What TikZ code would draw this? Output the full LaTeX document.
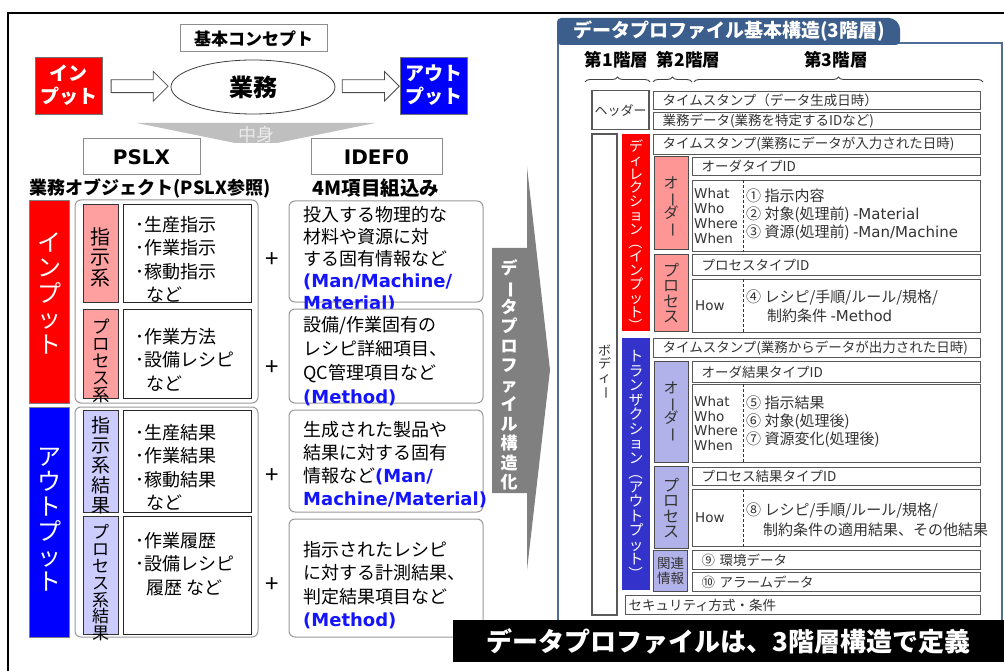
\documentclass[tikz,border=0pt]{standalone}
\usepackage{fontspec}
\setmainfont{Noto Sans CJK JP}
\newfontfamily\vfont{DejaVu Sans}
\usepackage{graphicx}
\usetikzlibrary{positioning}
\usetikzlibrary{calc}
\usetikzlibrary{shapes.geometric}
\usetikzlibrary{shapes.arrows}
\usetikzlibrary{decorations.pathreplacing}

\definecolor{inpink}{RGB}{255,160,160}
\definecolor{outlav}{RGB}{204,204,255}
\definecolor{rpink}{RGB}{255,150,150}
\definecolor{rlav}{RGB}{178,178,235}
\definecolor{trblue}{RGB}{51,51,204}
\definecolor{tabblue}{RGB}{59,94,140}
\definecolor{mblue}{RGB}{20,20,255}

\newcommand{\fsz}[2]{\fontsize{#1}{#2}\selectfont}
\newcommand{\rot}[1]{\rotatebox[origin=c]{-90}{#1}}
\newcommand{\mtag}[1]{{\color{mblue}\vfont\bfseries #1}}

\begin{document}
\begin{tikzpicture}[x=1pt,y=-1pt,
   tbox/.style={draw=black!45,line width=1pt,fill=white},
   cbox/.style={draw=black!85,line width=0.9pt,fill=white,minimum width=128},
   grp/.style={draw=black!40,line width=1pt,rounded corners=6,minimum width=183},
   mbox/.style={draw=black!40,line width=1pt,rounded corners=6,fill=white,minimum width=194},
   lbl/.style={draw=black!80,line width=0.9pt,minimum width=35,inner sep=0},
   tate/.style={align=center,inner sep=0,execute at begin node={\lineskiplimit=-20pt}},
   ctext/.style={anchor=north west,align=left,inner sep=0,font=\fsz{18}{23.5}},
   mtext/.style={anchor=north west,align=left,inner sep=0,font=\fsz{18}{23}},
   plus/.style={font=\fsz{24}{26}},
   harrow/.style={single arrow,draw=black!70,fill=white,line width=0.8pt,minimum height=57,
      minimum width=29,single arrow head extend=8.5,inner xsep=0,inner ysep=6,
      text height=0pt,text depth=0pt},
   rbox/.style={draw=black!65,line width=1.1pt,fill=white,text=black!80,font=\fsz{13}{15},inner sep=0},
   ritem/.style={rbox,anchor=north west,align=left,inner xsep=9,font=\fsz{13.5}{15}},
   rlbl/.style={draw=black!70,line width=1pt,minimum width=34,inner sep=0},
   wtext/.style={anchor=west,align=left,inner sep=0,text=black!80},
   tier/.style={font=\bfseries\fsz{17.5}{19}},
   tbrace/.style={decorate,decoration={brace,amplitude=5},line width=0.9pt,draw=black!75},
   divider/.style={draw=black!80,line width=0.9pt,dash pattern=on 3pt off 2pt}]
\useasboundingbox (0,0) rectangle (1004,671);
\fill[white] (0,0) rectangle (1004,671);
\draw[line width=1.5pt] (8,671) -- (8,13) -- (1004,13);

% basic concept
\node[tbox,minimum width=147,minimum height=27,font=\bfseries\fsz{17}{19}] (concept) at (253.5,38.5) {基本コンセプト};
\node[draw=black!55,fill=red,text=white,minimum width=67,minimum height=57,align=center,inner sep=0,
   font=\bfseries\fsz{19}{23}] (inp) at (68.5,85.5) {イン\\プット};
\node[ellipse,draw=black!75,line width=0.8pt,minimum width=164,minimum height=54,
   font=\bfseries\fsz{24}{26}] (biz) at (253,87) {業務};
\node[draw=black!55,fill=blue,text=white,minimum width=67,minimum height=57,align=center,inner sep=0,
   font=\bfseries\fsz{19}{23}] (outp) at (433.5,85.5) {アウト\\プット};
\node[harrow] (arrA) at ($(inp.east)!0.5!(biz.west)$) {};
\node[harrow] (arrB) at ($(biz.east)!0.5!(outp.west)$) {};
\fill[black!25] (137,123) -- (375,123) -- (277,143) -- (235,143) -- cycle;
\node[text=black!8,font=\fsz{18}{20}] (naka) at (256,135) {中身};

\node[tbox,minimum width=117,minimum height=36,font=\vfont\bfseries\fsz{20}{22}] (pslx) at (141.5,157) {PSLX};
\node[tbox,minimum width=131,minimum height=36,font=\vfont\bfseries\fsz{20}{22}] (idef) at (376.5,157) {IDEF0};
\node[font=\bfseries\fsz{18}{20}] (objhd) at (150,188) {業務オブジェクト(PSLX参照)};
\node[font=\bfseries\fsz{19.5}{21}] (fourm) at (376,188) {4M項目組込み};

% input rows
\node[fill=red,draw=black!50,minimum width=40,minimum height=203,inner sep=0] (inbig) at (49,301.5) {};
\node[tate,text=white,font=\fsz{24}{25.5}] (inbigT) at (49,293) {イ\\ン\\プ\\ッ\\ト};
\node[grp,minimum height=203] (ingrp) at (166.5,301.5) {};
\node[lbl,fill=inpink,minimum height=98] (shiji) at (100.5,253) {};
\node[tate,font=\fsz{20}{20.5}] (shijiT) at (100.5,257) {指\\示\\系};
\node[cbox,minimum height=98] (c1) at (187,253) {};
\node[ctext] (c1t) at (135,216) {･生産指示\\･作業指示\\･稼動指示\\\hspace*{11pt}など};
\node[lbl,fill=inpink,minimum height=89] (proc) at (101,353.5) {};
\node[tate,font=\fsz{17.5}{17}] (procT) at (101,361) {プ\\ロ\\セ\\ス\\系};
\node[cbox,minimum height=89] (c2) at (187,353.5) {};
\node[ctext] (c2t) at (135,328) {･作業方法\\･設備レシピ\\\hspace*{11pt}など};

\node[mbox,minimum height=101] (m1) at (386,251.5) {};
\node[mtext,font=\fsz{18}{22}] (m1t) at (303,206) {投入する物理的な\\材料や資源に対\\する固有情報など\\\mtag{(Man/Machine/}\\\mtag{Material)}};
\node[mbox,minimum height=94] (m2) at (386,356) {};
\node[mtext,font=\fsz{18}{24}] (m2t) at (303,316) {設備/作業固有の\\レシピ詳細項目、\\QC管理項目など\\\mtag{(Method)}};
\node[plus] (p1) at (272,260) {+};
\node[plus] (p2) at (272,368) {+};

% output rows
\node[fill=blue,draw=black!50,minimum width=40,minimum height=230,inner sep=0] (outbig) at (49,522) {};
\node[tate,text=white,font=\fsz{24}{25}] (outbigT) at (49,520) {ア\\ウ\\ト\\プ\\ッ\\ト};
\node[grp,minimum height=230] (outgrp) at (166.5,522) {};
\node[lbl,fill=outlav,minimum height=102] (shijikk) at (100.5,461) {};
\node[tate,font=\fsz{19}{20}] (shijikkT) at (100.5,465) {指\\示\\系\\結\\果};
\node[cbox,minimum height=102] (c3) at (187,461) {};
\node[ctext] (c3t) at (135,424) {･生産結果\\･作業結果\\･稼動結果\\\hspace*{11pt}など};
\node[lbl,fill=outlav,minimum height=118] (prockk) at (100.5,575) {};
\node[tate,font=\fsz{17}{16.8}] (prockkT) at (100.5,583) {プ\\ロ\\セ\\ス\\系\\結\\果};
\node[cbox,minimum height=118] (c4) at (187,575) {};
\node[ctext] (c4t) at (135,532) {･作業履歴\\･設備レシピ\\\hspace*{11pt}履歴 など};

\node[mbox,minimum height=102] (m3) at (386,461) {};
\node[mtext] (m3t) at (303,421) {生成された製品や\\結果に対する固有\\情報など\mtag{(Man/}\\\mtag{Machine/Material)}};
\node[mbox,minimum height=118] (m4) at (386,578) {};
\node[mtext,font=\fsz{18}{23.5}] (m4t) at (303,541) {指示されたレシピ\\に対する計測結果、\\判定結果項目など\\\mtag{(Method)}};
\node[plus] (p3) at (272,476) {+};
\node[plus] (p4) at (272,585) {+};

% structuring arrow
\fill[black!50] (492,248) -- (527,248) -- (527,167) -- (550,370) -- (527,570) -- (527,493) -- (492,493) -- cycle;
\node[tate,text=white,font=\bfseries\fsz{17}{19.5}] (kozoka) at (509,375) {デ\\\rot{ー}\\タ\\プ\\ロ\\フ\\ァ\\イ\\ル\\構\\造\\化};

% data profile
\draw[tabblue!90,line width=2.5pt] (558,43) rectangle (1002,645);
\fill[tabblue,rounded corners=4] (557,45) -- (557,18) -- (893,18) -- (900,25) -- (900,45) -- cycle;
\node[text=white,font=\bfseries\fsz{19}{21}] (tab) at (729,31) {データプロファイル基本構造(3階層)};

\node[tier] (tier1) at (616.5,60) {第1階層};
\node[tier] (tier2) at (688.5,60) {第2階層};
\node[tier] (tier3) at (836,60) {第3階層};
\draw[tbrace] (585,82) -- (650,82);
\draw[tbrace] (653,82) -- (692,82);
\draw[tbrace] (694,82) -- (983,82);

\node[rbox,minimum width=57,minimum height=39] (hdr) at (620.5,110) {ヘッダー};
\node[ritem,text width=309,minimum height=18] (ts1) at (653,91) {タイムスタンプ（データ生成日時）};
\node[ritem,text width=309,minimum height=17] (gyomu) at (653,112) {業務データ(業務を特定するIDなど)};

\node[rbox,minimum width=25,minimum height=481] (body) at (604.5,374.5) {};
\node[tate,text=black!80,font=\fsz{13}{13.5}] (bodyT) at (604.5,372) {ボ\\デ\\ィ\\\rot{ー}};

% direction
\node[fill=red,minimum width=28,minimum height=197,inner sep=0] (dir) at (636,232.5) {};
\node[tate,text=white,font=\fsz{14}{13.8}] (dirT) at (636,236) {デ\\ィ\\レ\\ク\\シ\\ョ\\ン\\\rot{（}\\イ\\ン\\プ\\ッ\\ト\\\rot{）}};
\node[ritem,text width=309,minimum height=20] (ts2) at (653,134) {タイムスタンプ(業務にデータが入力された日時)};
\node[rlbl,fill=rpink,minimum height=93] (ord1) at (671,203.5) {};
\node[tate,text=black!80,font=\fsz{15}{15}] (ord1T) at (671,207) {オ\\\rot{ー}\\ダ\\\rot{ー}};
\node[ritem,text width=270,minimum height=18] (otype) at (692,157) {オーダタイプID};
\node[rbox,anchor=north west,minimum width=288,minimum height=71] (w1) at (692,180) {};
\draw[divider] ([xshift=51]w1.north west) -- ([xshift=51]w1.south west);
\node[wtext,font=\vfont\fsz{13.5}{14.7}] (w1l) at (694,216) {What\\Who\\Where\\When};
\node[wtext,font=\fsz{15}{18}] (w1r) at (746,215) {① 指示内容\\② 対象(処理前) {\vfont -Material}\\③ 資源(処理前) {\vfont -Man/Machine}};
\node[rlbl,fill=rpink,minimum height=77] (prc1) at (671,292.5) {};
\node[tate,text=black!80,font=\fsz{16}{15.5}] (prc1T) at (671,293) {プ\\ロ\\セ\\ス};
\node[ritem,text width=270,minimum height=21] (ptype) at (692,254) {プロセスタイプID};
\node[rbox,anchor=north west,minimum width=288,minimum height=53] (h1) at (692,279) {};
\draw[divider] ([xshift=51]h1.north west) -- ([xshift=51]h1.south west);
\node[wtext,font=\vfont\fsz{13.5}{15}] (h1l) at (695,306) {How};
\node[wtext,font=\fsz{15}{19}] (h1r) at (746,306.5) {④ レシピ/手順/ルール/規格/\\\hspace*{21pt}制約条件 {\vfont -Method}};

% transaction
\node[fill=trblue,minimum width=28,minimum height=252,inner sep=0] (trn) at (636,464) {};
\node[tate,text=white,font=\fsz{14.5}{14.5}] (trnT) at (636,466) {ト\\ラ\\ン\\ザ\\ク\\シ\\ョ\\ン\\\rot{（}\\ア\\ウ\\ト\\プ\\ッ\\ト\\\rot{）}};
\node[ritem,text width=309,minimum height=19] (ts3) at (653,338) {タイムスタンプ(業務からデータが出力された日時)};
\node[rlbl,fill=rlav,minimum height=101] (ord2) at (671,411.5) {};
\node[tate,text=black!80,font=\fsz{15}{15}] (ord2T) at (671,412) {オ\\\rot{ー}\\ダ\\\rot{ー}};
\node[ritem,text width=270,minimum height=21] (otype2) at (692,361) {オーダ結果タイプID};
\node[rbox,anchor=north west,minimum width=288,minimum height=78] (w2) at (692,384) {};
\draw[divider] ([xshift=51]w2.north west) -- ([xshift=51]w2.south west);
\node[wtext,font=\vfont\fsz{13.5}{14.7}] (w2l) at (694,423.5) {What\\Who\\Where\\When};
\node[wtext,font=\fsz{15}{18}] (w2r) at (746,422) {⑤ 指示結果\\⑥ 対象(処理後)\\⑦ 資源変化(処理後)};
\node[rlbl,fill=rlav,minimum height=82] (prc2) at (671,507) {};
\node[tate,text=black!80,font=\fsz{16}{15.5}] (prc2T) at (671,508) {プ\\ロ\\セ\\ス};
\node[ritem,text width=270,minimum height=18] (ptype2) at (692,467) {プロセス結果タイプID};
\node[rbox,anchor=north west,minimum width=288,minimum height=57] (h2) at (692,489) {};
\draw[divider] ([xshift=51]h2.north west) -- ([xshift=51]h2.south west);
\node[wtext,font=\vfont\fsz{13.5}{15}] (h2l) at (695,518) {How};
\node[wtext,font=\fsz{15}{20}] (h2r) at (746,520) {⑧ レシピ/手順/ルール/規格/\\\hspace*{17pt}制約条件の適用結果、その他結果};
\node[rlbl,fill=rlav,minimum height=41,align=center,text=black!80,font=\fsz{13.5}{15}] (kanren) at (670.5,570.5) {関連\\情報};
\node[ritem,text width=270,minimum height=19] (env) at (692,550) {⑨ 環境データ};
\node[ritem,text width=270,minimum height=19] (alarm) at (692,572) {⑩ アラームデータ};
\node[ritem,inner xsep=3,text width=349,minimum height=19] (sec) at (625,595) {セキュリティ方式・条件};

\node[fill=black,text=white,minimum width=551,minimum height=42,inner sep=0,
   font=\bfseries\fsz{26}{28}] (banner) at (728.5,641) {データプロファイルは、3階層構造で定義};
\end{tikzpicture}
\end{document}
